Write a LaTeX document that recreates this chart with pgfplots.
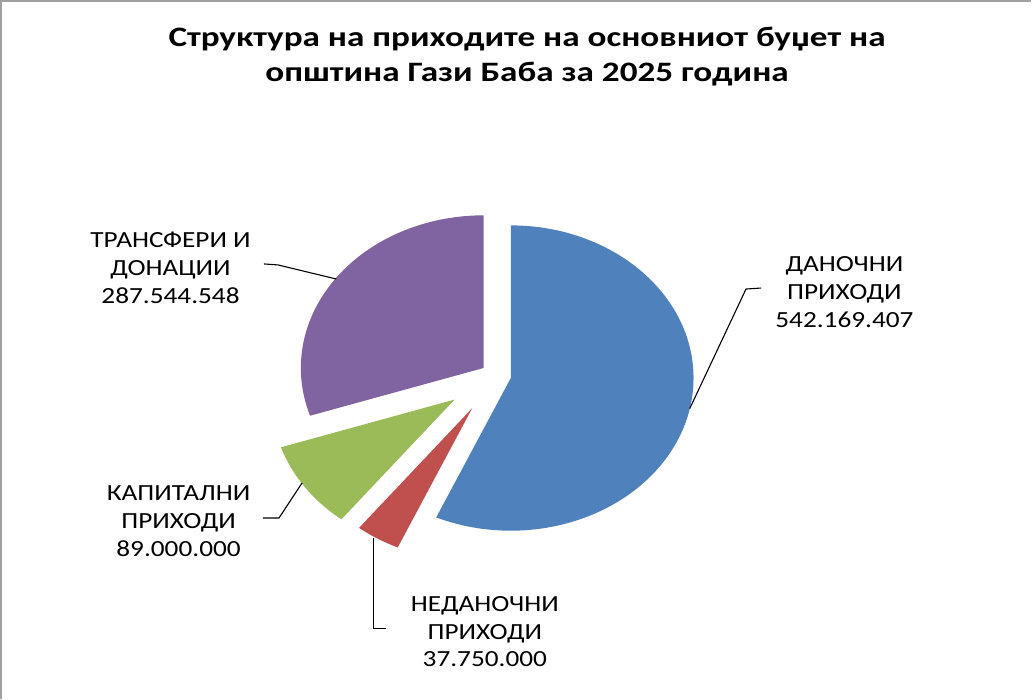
\documentclass[border=0pt]{standalone}
\usepackage{pgfplots}
\usepackage{pgfplotstable}
\usepackage{graphicx}
\pgfplotsset{compat=1.18}
\usepackage{fontspec}
\setmainfont{Carlito}

\definecolor{cBlue}{HTML}{4F81BD}
\definecolor{cRed}{HTML}{C0504D}
\definecolor{cGreen}{HTML}{9BBB59}
\definecolor{cPurple}{HTML}{8064A2}
\definecolor{frame}{HTML}{A0A0A0}

\pgfplotstableread{
idx value explode
0 542169407 0.083
1 37750000 0.25
2 89000000 0.276
3 287544548 0.083
}\pietable

\pgfplotstablegetelem{0}{value}\of\pietable \xdef\vA{\pgfplotsretval}
\pgfplotstablegetelem{1}{value}\of\pietable \xdef\vB{\pgfplotsretval}
\pgfplotstablegetelem{2}{value}\of\pietable \xdef\vC{\pgfplotsretval}
\pgfplotstablegetelem{3}{value}\of\pietable \xdef\vD{\pgfplotsretval}
\pgfplotstablegetelem{0}{explode}\of\pietable \xdef\fA{\pgfplotsretval}
\pgfplotstablegetelem{1}{explode}\of\pietable \xdef\fB{\pgfplotsretval}
\pgfplotstablegetelem{2}{explode}\of\pietable \xdef\fC{\pgfplotsretval}
\pgfplotstablegetelem{3}{explode}\of\pietable \xdef\fD{\pgfplotsretval}

\xdef\T{\fpeval{\vA+\vB+\vC+\vD}}
\xdef\sA{90}
\xdef\eA{\fpeval{90-360*\vA/\T}}
\xdef\eB{\fpeval{\eA-360*\vB/\T}}
\xdef\eC{\fpeval{\eB-360*\vC/\T}}
\xdef\eD{\fpeval{\eC-360*\vD/\T}}

\def\CX{499}\def\CY{380}\def\RX{182}\def\RY{152}
% centers of exploded slices
\xdef\mA{\fpeval{(\sA+\eA)/2}}
\xdef\mB{\fpeval{(\eA+\eB)/2}}
\xdef\mC{\fpeval{(\eB+\eC)/2}}
\xdef\mD{\fpeval{(\eC+\eD)/2}}
\xdef\xA{\fpeval{\CX+\RX*\fA*cosd(\mA)}}\xdef\yA{\fpeval{\CY-\RY*\fA*sind(\mA)}}
\xdef\xB{\fpeval{\CX+\RX*\fB*cosd(\mB)}}\xdef\yB{\fpeval{\CY-\RY*\fB*sind(\mB)}}
\xdef\xC{\fpeval{\CX+\RX*\fC*cosd(\mC)}}\xdef\yC{\fpeval{\CY-\RY*\fC*sind(\mC)}}
\xdef\xD{\fpeval{\CX+\RX*\fD*cosd(\mD)}}\xdef\yD{\fpeval{\CY-\RY*\fD*sind(\mD)}}

\newcommand\slice[5]{%
  \fill[#1] (axis cs:#2,#3) -- ++(#4:\RX pt and \RY pt)
    arc[start angle=#4, end angle=#5, x radius=\RX pt, y radius=\RY pt] -- cycle;}

\newcommand\stretched[2]{\scalebox{#1}[1]{\begin{tabular}{@{}c@{}}#2\end{tabular}}}

\begin{document}
\begin{tikzpicture}
\begin{axis}[
  scale only axis, width=1032pt, height=702pt,
  xmin=0, xmax=1032, ymin=0, ymax=702, y dir=reverse,
  hide axis, clip=false]
\draw[frame, line width=1.6pt] (axis cs:6,702) -- (axis cs:6,7) -- (axis cs:1032,7);

\slice{cBlue}{\xA}{\yA}{\sA}{\eA}
\slice{cRed}{\xB}{\yB}{\eA}{\eB}
\slice{cGreen}{\xC}{\yC}{\eB}{\eC}
\slice{cPurple}{\xD}{\yD}{\eC}{\eD}

% title
\node[inner sep=0pt, font=\fontsize{28}{35}\selectfont\bfseries] at (axis cs:530,63)
  {\stretched{1.25}{Структура на приходите на основниот буџет на\\општина Гази Баба за 2025 година}};

% leader lines
\draw[black, line width=1.1pt] (axis cs:692,413) -- (axis cs:748,294) -- (axis cs:763,293);
\draw[black, line width=1.1pt] (axis cs:268,269) -- (axis cs:282,270) -- (axis cs:340,284);
\draw[black, line width=1.1pt] (axis cs:267,522) -- (axis cs:283,522) -- (axis cs:306,487);
\draw[black, line width=1.1pt] (axis cs:377,542) -- (axis cs:377,632) -- (axis cs:390,632);

% data labels
\tikzset{lbl/.style={inner sep=0pt, font=\fontsize{23}{27.5}\selectfont, text=black}}
\node[lbl] at (axis cs:846,299) {\stretched{1.18}{ДАНОЧНИ\\ПРИХОДИ\\542.169.407}};
\node[lbl] at (axis cs:175,275) {\stretched{1.18}{ТРАНСФЕРИ И\\ДОНАЦИИ\\287.544.548}};
\node[lbl] at (axis cs:183,527) {\stretched{1.18}{КАПИТАЛНИ\\ПРИХОДИ\\89.000.000}};
\node[lbl] at (axis cs:488,637) {\stretched{1.18}{НЕДАНОЧНИ\\ПРИХОДИ\\37.750.000}};
\end{axis}
\end{tikzpicture}
\end{document}
